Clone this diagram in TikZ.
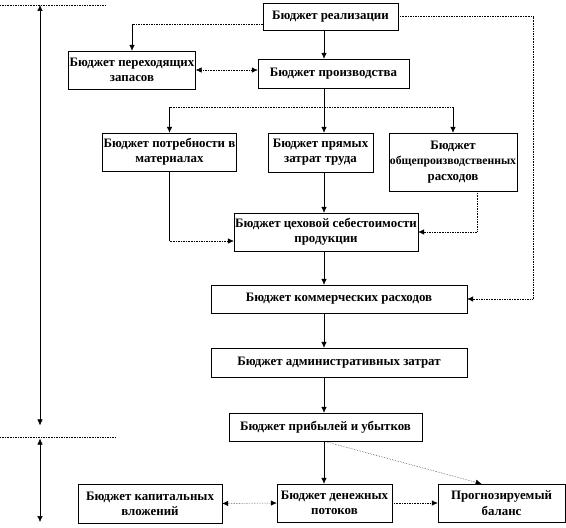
\documentclass[tikz,border=0pt]{standalone}
\usepackage{fontspec}
\setmainfont{Liberation Serif}
\usetikzlibrary{positioning,arrows.meta}

\tikzset{
  box/.style={draw, thin, fill=white, align=center, inner sep=1pt,
    font=\bfseries\fontsize{11}{13}\selectfont},
  arr/.style={-{Latex[length=5pt,width=4.5pt]}},
  arrr/.style={{Latex[length=5pt,width=4.5pt]}-{Latex[length=5pt,width=4.5pt]}},
  dots/.style={densely dotted}
}

\begin{document}
\begin{tikzpicture}[x=0.03cm, y=-0.03cm]
\useasboundingbox (0,0) rectangle (566,527);

% Boxes (upper part)
\node[box, minimum width=4.05cm, minimum height=0.81cm] (real) at (330.5,16.5) {Бюджет реализации};
\node[box, minimum width=3.78cm, minimum height=1.14cm] (zap) at (132,70) {Бюджет переходящих\\запасов};
\node[box, minimum width=4.53cm, minimum height=0.87cm] (prod) at (333.5,73.5) {Бюджет производства};
\node[box, minimum width=3.81cm, minimum height=1.14cm] (mat) at (169.5,152) {Бюджет потребности в\\материалах};
\node[box, minimum width=3.15cm, minimum height=1.17cm] (trud) at (320.5,152.5) {Бюджет прямых\\затрат труда};
\node[box, minimum width=3.78cm, minimum height=1.74cm] (opr) at (453,162) {Бюджет\\{\fontsize{10}{13}\selectfont общепроизводственных}\\расходов};
\node[box, minimum width=5.22cm, minimum height=1.14cm] (ceh) at (326,232) {Бюджет цеховой себестоимости\\продукции};
\node[box, minimum width=7.68cm, minimum height=0.84cm] (kom) at (339,299) {Бюджет коммерческих расходов};
\node[box, minimum width=7.68cm, minimum height=0.87cm] (adm) at (339,362.5) {Бюджет административных затрат};
\node[box, minimum width=5.79cm, minimum height=0.84cm] (prib) at (325.5,427) {Бюджет прибылей и убытков};

% Boxes (lower part)
\node[box, minimum width=4.32cm, minimum height=1.17cm] (kap) at (150,503.5) {Бюджет капитальных\\вложений};
\node[box, minimum width=3.45cm, minimum height=1.14cm] (den) at (334.5,503) {Бюджет денежных\\потоков};
\node[box, minimum width=3.81cm, minimum height=1.14cm] (bal) at (501.5,503) {Прогнозируемый\\баланс};

% Helper coordinates
\coordinate (col) at (324,0);
\coordinate (br) at (324,107);
\coordinate (rc) at (533,150);
\coordinate (zl) at ([yshift=-0.22cm]real.west);
\coordinate (zb) at (zap.north |- zl);
\coordinate (cw) at ([yshift=-0.27cm]ceh.west);
\coordinate (oc) at ([xshift=0.72cm]opr.south);

% Connectors
\draw[arr] (real.south -| col) -- (prod.north -| col);
\draw[dots, arr] (real.east) -| (rc) |- (kom.east);
\draw[dots] (zl) -- (zb);
\draw[arr] (zb) -- (zap.north);
\draw[dots, arrr] (zap.east) -- (zap.east -| prod.west);
\draw (prod.south -| col) -- (br);
\draw[dots] (br -| mat.north) -- (br -| opr.north);
\draw[arr] (br -| mat.north) -- (mat.north);
\draw[arr] (br) -- (trud.north -| col);
\draw[arr] (br -| opr.north) -- (opr.north);
\draw (mat.south) -- (mat.south |- cw);
\draw[dots, arr] (mat.south |- cw) -- (cw);
\draw[arr] (trud.south -| col) -- (ceh.north -| col);
\draw[dots, arr] (oc) |- (ceh.east);
\draw[arr] (ceh.south -| col) -- (kom.north -| col);
\draw[arr] (kom.south -| col) -- (adm.north -| col);
\draw[arr] (adm.south -| col) -- (prib.north -| col);
\draw[arr] (prib.south -| col) -- (den.north -| col);
\draw[dots, arr] (prib.south -| col) -- ([xshift=-0.6cm]bal.north);
\draw[dots, arrr] (kap.east) -- (den.west);
\draw[dots, arr] (den.east) -- (bal.west);

% Left scale
\coordinate (t1) at (40,5);
\coordinate (t2) at (40,437);
\coordinate (t3) at (40,522);
\draw[dots] (0,5) -- (105,5);
\draw[dots] (0,437) -- (115,437);
\draw[arrr] (t1) -- ([yshift=0.35cm]t2);
\draw[arrr] ([yshift=-0.05cm]t2) -- (t3);

\end{tikzpicture}
\end{document}
